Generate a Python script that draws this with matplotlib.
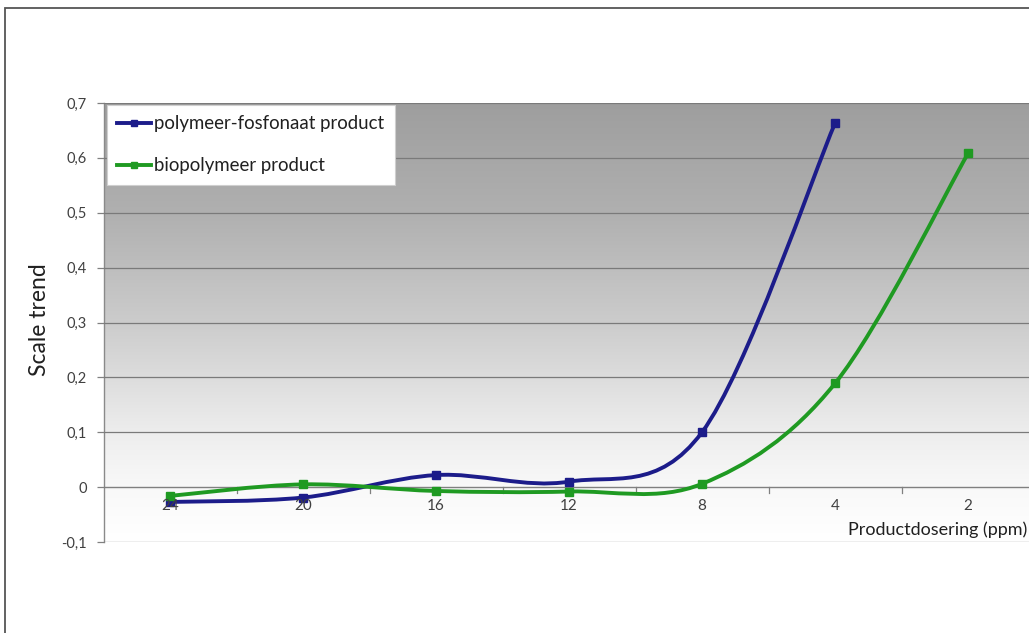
import numpy as np
import matplotlib
matplotlib.use("Agg")
import matplotlib.pyplot as plt
from matplotlib.path import Path
from matplotlib.patches import PathPatch, Rectangle
from matplotlib.lines import Line2D

plt.rcParams['font.family'] = ['Lato', 'DejaVu Sans']

# Data
doses = ["24", "20", "16", "12", "8", "4", "2"]
poly_fosfonaat = [-0.027, -0.019, 0.022, 0.010, 0.100, 0.663, None]
biopolymeer = [-0.016, 0.005, -0.007, -0.008, 0.006, 0.189, 0.608]
series_names = ["polymeer-fosfonaat product", "biopolymeer product"]
series_colors = ["#1c1c8a", "#1f9a22"]
y_ticks = [-0.1, 0, 0.1, 0.2, 0.3, 0.4, 0.5, 0.6, 0.7]

W, H = 1029, 633
fig = plt.figure(figsize=(W / 100, H / 100), dpi=100)

# chart-area frame
fig.patches.append(Rectangle((5 / W, -0.1), 1.2, 1 - 8 / H + 0.1,
                             transform=fig.transFigure, fill=False,
                             edgecolor="#555555", linewidth=1.3))

left_px, right_px = 103.5, 103.5 + 7 * 133
top_px, bot_px = 103, 542
ax = fig.add_axes([left_px / W, 1 - bot_px / H,
                   (right_px - left_px) / W, (bot_px - top_px) / H])

# gradient background: darker grey at the top, fading to white at the bottom
stop_y = [0.7, 0.5, 0.3, 0.1, 0.0, -0.1]
stop_v = [0.62, 0.69, 0.80, 0.93, 0.975, 1.0]
yy = np.linspace(0.7, -0.1, 300)
shade = np.interp(yy, stop_y[::-1], stop_v[::-1])[:, None]
img = np.dstack([shade, shade, shade])
ax.imshow(img, extent=(-0.5, 6.5, -0.1, 0.7), aspect='auto', zorder=0,
          origin='upper', interpolation='bilinear')
ax.set_xlim(-0.5, 6.5)
ax.set_ylim(-0.1, 0.7)

for s in ax.spines.values():
    s.set_visible(False)
ax.plot([-0.5, -0.5], [-0.1, 0.7], color="#8a8a8a", lw=1.0, zorder=1, clip_on=False)

# horizontal grid
for yv in y_ticks:
    if yv == 0:
        continue
    ax.axhline(yv, color="#7a7a7a", lw=0.9, zorder=1)
ax.axhline(0, color="#808080", lw=1.0, zorder=1)

# category-axis tick marks on the zero line
for i in range(7):
    ax.plot([i + 0.5, i + 0.5], [0, -0.01], color="#808080", lw=0.9, zorder=1)


def smooth_path(xs, ys):
    pts = np.column_stack([xs, ys])
    n = len(pts)
    verts = [pts[0]]
    codes = [Path.MOVETO]
    for i in range(n - 1):
        p0 = pts[i - 1] if i > 0 else pts[i]
        p1 = pts[i]
        p2 = pts[i + 1]
        p3 = pts[i + 2] if i + 2 < n else pts[i + 1]
        c1 = p1 + (p2 - p0) / 6.0
        c2 = p2 - (p3 - p1) / 6.0
        verts += [c1, c2, p2]
        codes += [Path.CURVE4] * 3
    return Path(verts, codes)


for vals, color in zip([poly_fosfonaat, biopolymeer], series_colors):
    xs = [i for i, v in enumerate(vals) if v is not None]
    ys = [v for v in vals if v is not None]
    # smoothed curve built in display space so its shape follows the pixel layout
    disp = ax.transData.transform(np.column_stack([xs, ys]))
    path = smooth_path(disp[:, 0], disp[:, 1])
    ax.add_patch(PathPatch(path, transform=None, fill=False, edgecolor=color,
                           lw=2.8, zorder=3, capstyle='round'))
    ax.plot(xs, ys, linestyle='none', marker='s', markersize=5.5,
            color=color, zorder=4)

# ticks
ax.set_xticks([])
ax.set_yticks(y_ticks)
ax.set_yticklabels([("%.1f" % v).replace(".", ",") if v != 0 else "0" for v in y_ticks],
                   fontsize=10.5, color="#404040")
ax.tick_params(axis='y', length=5, color="#808080", pad=7, width=0.9)
for i, d in enumerate(doses):
    ax.text(i, -0.021, d, ha='center', va='top', fontsize=11, color="#404040", zorder=5)

fig.text(40 / W, 1 - 320 / H, "Scale trend", rotation=90, ha='center', va='center',
         fontsize=16.5, color="#202020")
fig.text(1027 / W, 1 - 530 / H, "Productdosering (ppm)", ha='right', va='center',
         fontsize=13, color="#202020")

# legend
handles = [Line2D([], [], color=c, lw=2.8, marker='s', markersize=5) for c in series_colors]
leg = fig.legend(handles, series_names, loc='upper left',
                 bbox_to_anchor=(107 / W, 1 - 105 / H), fontsize=13.4,
                 frameon=True, fancybox=False, handlelength=1.8, handletextpad=0.2,
                 labelspacing=1.35, borderpad=0.55, borderaxespad=0)
leg.get_frame().set_edgecolor("#cfcfcf")
leg.get_frame().set_linewidth(0.8)
leg.get_frame().set_alpha(1.0)
for txt in leg.get_texts():
    txt.set_color("#202020")

fig.savefig("out.png", dpi=100)
